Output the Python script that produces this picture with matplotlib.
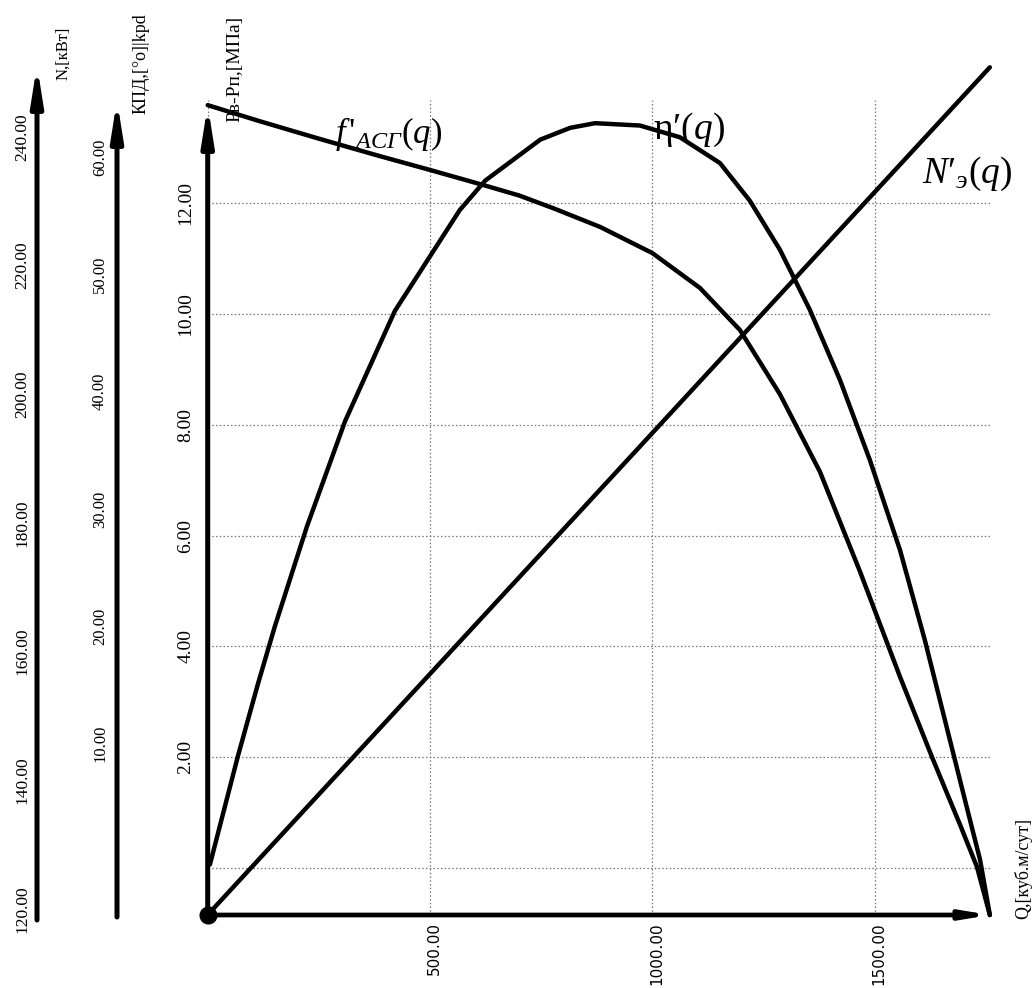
import matplotlib
matplotlib.use('Agg')
import matplotlib.pyplot as plt

plt.rcParams['font.family'] = ['Liberation Serif', 'DejaVu Serif']
plt.rcParams['mathtext.fontset'] = 'custom'
plt.rcParams['mathtext.rm'] = 'Liberation Serif'
plt.rcParams['mathtext.it'] = 'Liberation Serif:italic'

# --- data ---
# pressure curve f'_ACG(q), MPa
q_f = [0, 117, 252, 387, 500, 619, 700, 777, 883, 1000, 1107, 1197, 1287, 1377, 1467, 1557, 1629, 1692, 1730, 1759]
p_f = [13.77, 13.48, 13.16, 12.85, 12.60, 12.33, 12.14, 11.91, 11.57, 11.10, 10.47, 9.71, 8.55, 7.15, 5.35, 3.45, 2.0, 0.78, 0.02, -0.85]

# efficiency curve eta'(q), %
q_eta = [5, 68, 113, 151, 223, 309, 421, 567, 624, 748, 815, 871, 972, 1062, 1152,
         1219, 1287, 1354, 1422, 1489, 1557, 1613, 1658, 1703, 1737, 1759]
eta = [-0.3, 8.95, 15.1, 20.0, 28.5, 37.5, 46.9, 55.5, 58.0, 61.5, 62.5, 62.9, 62.7, 61.7, 59.5,
       56.3, 52.1, 47.0, 41.0, 34.2, 26.5, 18.8, 12.0, 5.2, 0.1, -4.6]

# power line N'(q), kW
q_n = [0, 1759]
n_vals = [119.1, 250.8]

q_ticks = [500, 1000, 1500]
p_ticks = [2, 4, 6, 8, 10, 12]
p_grid = [0, 2, 4, 6, 8, 10, 12]
n_ticks = [120, 140, 160, 180, 200, 220, 240]
kpd_ticks = [10, 20, 30, 40, 50, 60]

W, H = 1036, 988
X0, X1, YT, YB = 207.7, 990.3, 60, 915

fig = plt.figure(figsize=(W / 100, H / 100), dpi=100)
rect = [X0 / W, 1 - YB / H, (X1 - X0) / W, (YB - YT) / H]


def fx(px):
    return (px - X0) / (X1 - X0)


def fy(py):
    return (YB - py) / (YB - YT)


axP = fig.add_axes(rect)
axN = fig.add_axes(rect)
axK = fig.add_axes(rect)
for a in (axP, axN, axK):
    a.set_xlim(0, 1760)
    a.axis('off')
    a.patch.set_alpha(0)

axP.set_ylim((868 - YB) / 55.4, (868 - YT) / 55.4)
axN.set_ylim(120 + (909 - YB) / 128.7 * 20, 120 + (909 - YT) / 128.7 * 20)
axK.set_ylim((861 - YB) / 11.73, (861 - YT) / 11.73)

grid_kw = dict(color='#777777', lw=0.9, ls=(0, (1.2, 1.8)), zorder=1)
for p in p_grid:
    axP.plot([0, 1760], [p, p], **grid_kw)
for q in [0] + q_ticks:
    axP.plot([q, q], [axP.get_ylim()[0], 13.86], **grid_kw)

# curves
line_kw = dict(color='k', lw=3.2, solid_capstyle='round', solid_joinstyle='round',
               clip_on=False, zorder=3)
axP.plot(q_f, p_f, **line_kw)
axK.plot(q_eta, eta, **line_kw)
axN.plot(q_n, n_vals, **line_kw)


# axes arrows
def arrow(ax, x0, y0, x1, y1, hl, hw, lw=3.6):
    ax.annotate('', xy=(x1, y1), xytext=(x0, y0), xycoords='axes fraction',
                textcoords='axes fraction', annotation_clip=False,
                arrowprops=dict(arrowstyle='-|>,head_length=%s,head_width=%s' % (hl, hw),
                                lw=lw, color='k', shrinkA=0, shrinkB=0,
                                mutation_scale=10, capstyle='round'))


arrow(axP, fx(207.7), fy(915), fx(207.7), fy(105), 2.2, 0.35)
arrow(axP, fx(37), fy(920), fx(37), fy(65), 2.2, 0.35)
arrow(axP, fx(117), fy(917), fx(117), fy(100), 2.2, 0.35)
arrow(axP, fx(207.7), fy(915), fx(990), fy(915), 1.5, 0.25, lw=3.4)
axP.plot([0], [axP.get_ylim()[0]], 'o', color='k', ms=12, clip_on=False, zorder=5)

# tick labels
for p in p_ticks:
    axP.text(fx(186), p, '%.2f' % p, rotation=90, ha='center', va='center',
             fontsize=14, transform=axP.get_yaxis_transform())
for n in n_ticks:
    axN.text(fx(22), n, '%.2f' % n, rotation=90, ha='center', va='center',
             fontsize=12.5, transform=axN.get_yaxis_transform())
for k in kpd_ticks:
    axK.text(fx(100), k, '%.2f' % k, rotation=90, ha='center', va='center',
             fontsize=12, transform=axK.get_yaxis_transform())
for q in q_ticks:
    axP.text(q + 9, fy(922), '%.2f' % q, rotation=90, ha='center', va='top',
             fontsize=11, family='DejaVu Sans', transform=axP.get_xaxis_transform())

# axis titles
axP.text(fx(63), fy(53), 'N,[кВт]', rotation=90, ha='center', va='center',
         fontsize=12, transform=axP.transAxes)
axP.text(fx(141), fy(64), 'КПД,[°o]|kpd', rotation=90, ha='center', va='center',
         fontsize=13, transform=axP.transAxes)
axP.text(fx(235), fy(69), 'Рв-Рп,[МПа]', rotation=90, ha='center', va='center',
         fontsize=14, transform=axP.transAxes, zorder=2)
axP.text(fx(1023), fy(868), 'Q,[куб.м/сут]', rotation=90, ha='center', va='center',
         fontsize=13, transform=axP.transAxes)

# curve names
axP.text(fx(335), fy(143), r"$f\,'_{ACГ}(q)$", ha='left', va='baseline',
         fontsize=25, transform=axP.transAxes)
axP.text(fx(653), fy(139), r"η′($q$)", ha='left', va='baseline',
         fontsize=27, transform=axP.transAxes)
axP.text(fx(922), fy(183), r"$N′_э(q)$", ha='left', va='baseline',
         fontsize=27, transform=axP.transAxes)

fig.savefig('out.png', dpi=100)
